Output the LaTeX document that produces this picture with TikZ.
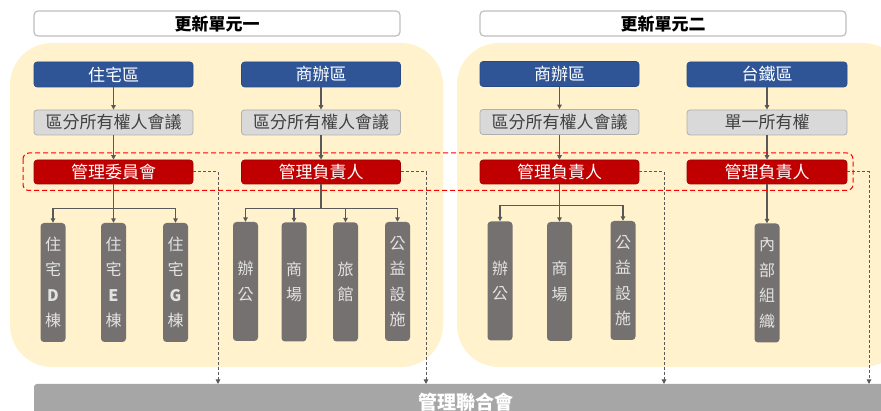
\documentclass[tikz,border=0pt]{standalone}
\usepackage{fontspec}
\setmainfont{Noto Sans CJK TC}
\usetikzlibrary{arrows.meta,calc}
\definecolor{cblue}{HTML}{2F5597}
\definecolor{cblueb}{HTML}{264A85}
\definecolor{cgray}{HTML}{D9D9D9}
\definecolor{cgrayb}{HTML}{AFAFAF}
\definecolor{cgtext}{HTML}{404040}
\definecolor{cred}{HTML}{C00000}
\definecolor{credb}{HTML}{A00000}
\definecolor{cchild}{HTML}{767171}
\definecolor{cchildt}{HTML}{E2E2E2}
\definecolor{cyellow}{HTML}{FFF2CC}
\definecolor{cbar}{HTML}{A6A6A6}
\definecolor{cline}{HTML}{595959}
\definecolor{chead}{HTML}{BFBFBF}
\begin{document}
\begin{tikzpicture}[x=1pt,y=-1pt,
  head/.style={draw=chead,line width=1.2pt,fill=white,rounded corners=4pt,minimum width=366pt,minimum height=25pt,inner sep=0pt,font=\fontsize{17}{20}\selectfont\bfseries,text=black},
  bluebox/.style={draw=cblueb,line width=0.6pt,fill=cblue,rounded corners=3pt,minimum width=159pt,minimum height=25pt,inner sep=0pt,font=\fontsize{17}{20}\selectfont,text=white},
  graybox/.style={draw=cgrayb,line width=0.8pt,fill=cgray,rounded corners=3pt,minimum width=159pt,minimum height=25pt,inner sep=0pt,font=\fontsize{17}{20}\selectfont,text=cgtext},
  redbox/.style={draw=credb,line width=0.6pt,fill=cred,rounded corners=3pt,minimum width=159pt,minimum height=24pt,inner sep=0pt,font=\fontsize{17}{20}\selectfont,text=white},
  childbox/.style={fill=cchild,rounded corners=3.5pt,minimum width=25pt,minimum height=119pt,inner sep=0pt,align=center,font=\fontsize{16}{25.5}\selectfont,text=cchildt},
  bar/.style={fill=cbar,rounded corners=3pt,minimum width=864pt,minimum height=36pt,inner sep=0pt,font=\fontsize{19}{22}\selectfont\bfseries,text=white},
  arr/.style={draw=cline,line width=1.1pt,-{Triangle[length=4.5pt,width=4.5pt]}},
  ln/.style={draw=cline,line width=1.1pt},
  dasharr/.style={draw=cline,line width=1pt,dash pattern=on 3pt off 2pt,-{Triangle[length=4.5pt,width=4.5pt]}},
  reddash/.style={draw=red,line width=1pt,dash pattern=on 5pt off 3pt,rounded corners=6pt}
]
\useasboundingbox (0,0) rectangle (881,411);
\clip (0,0) rectangle (881,411);
% yellow areas
\fill[cyellow,rounded corners=42pt] (10,43) rectangle (443,367);
\fill[cyellow,rounded corners=42pt] (457,43) rectangle (905,367);
% headers
\node[head] (h1) at (217,23.5) {更新單元一};
\node[head] (h2) at (663,23.5) {更新單元二};
% unit 1
\node[bluebox] (b1) at (113.5,74.5) {住宅區};
\node[bluebox] (b2) at (321,74.5) {商辦區};
\node[bluebox] (b3) at (559.5,74) {商辦區};
\node[bluebox,minimum width=160pt] (b4) at (767,74.5) {台鐵區};
\node[graybox] (g1) at (113.5,122.5) {區分所有權人會議};
\node[graybox] (g2) at (321,122.5) {區分所有權人會議};
\node[graybox] (g3) at (559.5,122) {區分所有權人會議};
\node[graybox,minimum width=160pt] (g4) at (767,122.5) {單一所有權};
\node[redbox] (r1) at (113.5,172) {管理委員會};
\node[redbox] (r2) at (321,172) {管理負責人};
\node[redbox] (r3) at (559.5,172) {管理負責人};
\node[redbox,minimum width=160pt] (r4) at (767,172) {管理負責人};
% children
\node[childbox] (c11) at (53,282.5) {住\\宅\\\textbf{D}\\棟};
\node[childbox] (c12) at (113.5,282.5) {住\\宅\\\textbf{E}\\棟};
\node[childbox] (c13) at (175.5,282.5) {住\\宅\\\textbf{G}\\棟};
\node[childbox] (c21) at (245.5,281.5) {辦\\公};
\node[childbox] (c22) at (294,282) {商\\場};
\node[childbox] (c23) at (345.5,282) {旅\\館};
\node[childbox] (c24) at (397.5,281.5) {公\\益\\設\\施};
\node[childbox] (c31) at (500,281) {辦\\公};
\node[childbox] (c32) at (559.5,281.5) {商\\場};
\node[childbox] (c33) at (623,280.5) {公\\益\\設\\施};
\node[childbox] (c41) at (767,283) {內\\部\\組\\織};
% bottom bar
\node[bar] (bar) at (466,402) {管理聯合會};
% vertical connectors
\foreach \i in {1,2,3,4}{
  \draw[arr] (b\i.south) -- (g\i.north);
  \draw[arr] (g\i.south) -- (r\i.north);
}
% trees
\path (r1.south) ++(0,24) coordinate (j1);
\draw[ln] (r1.south) -- (j1);
\draw[arr] (j1) -| (c11.north);
\draw[arr] (j1) -| (c13.north);
\draw[arr] (r1.south) -- (c12.north);
\path (r2.south) ++(0,24) coordinate (j2);
\draw[ln] (r2.south) -- (j2);
\draw[arr] (j2) -| (c21.north);
\draw[arr] (j2) -| (c22.north);
\draw[arr] (j2) -| (c23.north);
\draw[arr] (j2) -| (c24.north);
\path (r3.south) ++(0,21) coordinate (j3);
\draw[ln] (r3.south) -- (j3);
\draw[arr] (j3) -| (c31.north);
\draw[arr] (j3) -| (c33.north);
\draw[arr] (r3.south) -- (c32.north);
\draw[arr] (r4.south) -- (c41.north);
% dashed connectors to bar
\coordinate (d1) at (218,384);
\coordinate (d2) at (426,384);
\coordinate (d3) at (664,384);
\coordinate (d4) at (869,384);
\draw[dasharr] (r1.east) -| (d1);
\draw[dasharr] (r2.east) -| (d2);
\draw[dasharr] (r3.east) -| (d3);
\draw[dasharr] (r4.east) -| (d4);
% red dashed frame
\draw[reddash] (23,153) rectangle (853,190.5);
\end{tikzpicture}
\end{document}
